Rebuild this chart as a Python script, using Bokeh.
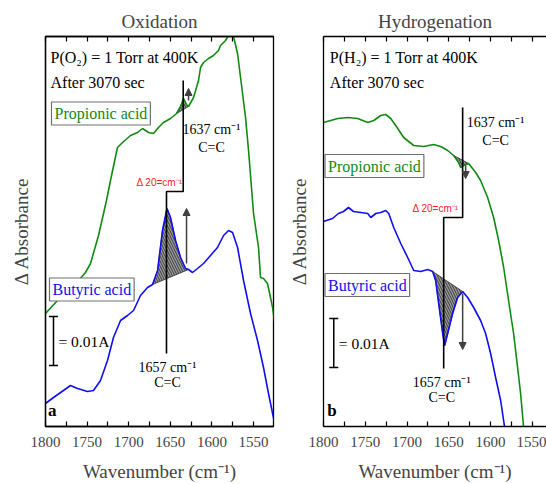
from bokeh.plotting import figure
from bokeh.layouts import row
from bokeh.models import Range1d, FixedTicker, LinearAxis, Label, Arrow, NormalHead
from bokeh.embed import file_html
from bokeh.resources import INLINE

SERIF = "Liberation Serif"
SANS = "Liberation Sans"
GREEN = "#128a12"
BLUE = "#1010ee"
GREY = "#404040"

# ---------------- data (wavenumber, delta absorbance in arbitrary units; 0.01 A = 49 units) ----
SCALE_001A = 49

ox_prop_wn = [1800, 1785.6, 1767.5, 1751.9, 1745.9, 1736.3, 1726.7, 1721.9, 1713.5, 1707.4,
              1697.8, 1689.4, 1683.4, 1676.2, 1670.2, 1664.2, 1658.2, 1649.8, 1642.5, 1637.7,
              1634.1, 1630.5, 1628.1, 1622.1, 1616.1, 1613.7, 1610.1, 1604.1, 1598.1, 1592.1,
              1589.7, 1583.6, 1577.6, 1574.0, 1569.2, 1565.6, 1559.6, 1556.0, 1551.2, 1550.0,
              1544.0, 1541.6, 1538.0, 1533.2, 1527.1, 1524.0]
ox_prop_abs = [113, 126, 139, 154, 163, 191, 226, 246, 279, 284,
               291, 294, 298, 294, 293, 299, 304, 308, 313, 320,
               328, 322, 320, 329, 346, 359, 364, 368, 371, 376,
               381, 386, 394, 390, 373, 349, 309, 276, 226, 213,
               179, 149, 148, 143, 119, 100]

ox_but_wn = [1800, 1790.4, 1778.4, 1770.0, 1761.5, 1749.5, 1742.3, 1733.9, 1725.5, 1718.3,
             1709.8, 1701.4, 1694.2, 1685.8, 1677.4, 1671.3, 1665.3, 1659.4, 1654.0, 1649.8,
             1643.7, 1637.7, 1631.7, 1628.1, 1623.3, 1617.3, 1610.1, 1601.7, 1593.3, 1586.0,
             1580.0, 1575.2, 1569.2, 1562.0, 1553.6, 1545.2, 1538.0, 1532.0, 1527.1, 1523.5]
ox_but_abs = [23, 29, 36, 41, 38, 35, 36, 46, 66, 89,
              106, 111, 116, 131, 139, 142, 156, 196, 218, 209,
              186, 169, 158, 157, 154, 158, 163, 171, 179, 191,
              196, 194, 179, 146, 113, 86, 59, 33, 13, -1]

hy_prop_wn = [1800, 1782.9, 1770.9, 1759.0, 1747.0, 1739.8, 1731.5, 1725.5, 1719.5, 1711.1,
              1704.0, 1692.0, 1680.0, 1668.1, 1659.7, 1651.3, 1644.2, 1638.2, 1635.8, 1632.2,
              1626.2, 1617.8, 1611.9, 1603.5, 1596.3, 1590.3, 1584.3, 1578.4, 1572.4, 1567.6,
              1564.0, 1560.4]
hy_prop_abs = [304, 308, 309, 308, 304, 306, 311, 312, 308, 298,
               289, 281, 280, 282, 280, 276, 271, 264, 259, 261,
               263, 254, 246, 229, 209, 186, 159, 126, 93, 59,
               33, -1]

hy_but_wn = [1800, 1789.2, 1782.1, 1776.1, 1770.1, 1764.1, 1755.4, 1747.0, 1743.4, 1737.4,
             1731.5, 1725.5, 1721.9, 1715.9, 1707.5, 1699.2, 1692.0, 1683.6, 1675.2, 1669.3,
             1665.7, 1662.1, 1657.3, 1654.9, 1651.3, 1645.4, 1639.4, 1633.4, 1627.4, 1620.2,
             1611.9, 1605.9, 1599.9, 1593.9, 1587.9, 1583.1]
hy_but_abs = [205, 208, 213, 215, 219, 215, 214, 213, 209, 213,
              214, 216, 213, 199, 183, 169, 156, 155, 157, 155,
              146, 123, 93, 81, 93, 113, 129, 135, 129, 119,
              106, 93, 73, 49, 26, -1]

MAJOR_TICKS = [1800, 1750, 1700, 1650, 1600, 1550]
MINOR_TICKS = [1775, 1725, 1675, 1625, 1575, 1525]


def shade(p, wn, ab, lo, hi):
    xs = [w for w in wn if lo <= w <= hi]
    ys = [a for w, a in zip(wn, ab) if lo <= w <= hi]
    p.patch(xs, ys, fill_color="#9a9a9a", fill_alpha=1.0, line_color="#303030", line_width=0.8,
            hatch_pattern="\\", hatch_color="#303030", hatch_scale=5, hatch_weight=0.9)


def txt(p, x, y, t, size="15px", color="black", font=SERIF, align="left", style="normal", **kw):
    lab = Label(x=x, y=y, text=t, text_font=font, text_font_size=size, text_color=color,
                text_align=align, text_baseline="middle", text_font_style=style, **kw)
    p.add_layout(lab)


def box_label(p, x, y, t, color):
    lab = Label(x=x, y=y, text=t, text_font=SERIF, text_font_size="16px", text_color=color,
                text_align="left", text_baseline="middle", padding=3,
                border_line_color="#707070", border_line_width=1.2,
                background_fill_color="white")
    p.add_layout(lab)


def arrow(p, x, y0, y1):
    p.add_layout(Arrow(end=NormalHead(size=7, fill_color=GREY, line_color=GREY),
                       x_start=x, y_start=y0, x_end=x, y_end=y1,
                       line_color=GREY, line_width=1.5))


def make_panel(title, xmin, width, bl, br, gas, letter, prop, but, marks):
    p = figure(width=width, height=484, x_range=Range1d(1800, xmin), y_range=Range1d(0, 390),
               output_backend="svg", toolbar_location=None,
               min_border_left=bl, min_border_right=br, min_border_top=36, min_border_bottom=58)
    p.grid.visible = False
    p.background_fill_color = "white"
    p.border_fill_color = "white"
    p.title.text = title
    p.title.align = "center"
    p.title.text_font = SERIF
    p.title.text_font_size = "19px"
    p.title.text_font_style = "normal"

    xa = p.xaxis[0]
    xa.ticker = FixedTicker(ticks=MAJOR_TICKS, minor_ticks=MINOR_TICKS)
    xa.major_tick_in = 5
    xa.major_tick_out = 0
    xa.minor_tick_in = 5
    xa.minor_tick_out = 0
    xa.axis_line_width = 1.3
    xa.major_tick_line_width = 1.2
    xa.minor_tick_line_width = 1.2
    xa.major_label_text_font = SERIF
    xa.major_label_text_font_size = "15px"
    xa.major_label_standoff = 10
    xa.axis_label = "Wavenumber (cm\u207b\u00b9)"
    xa.axis_label_text_font = SERIF
    xa.axis_label_text_font_size = "19px"
    xa.axis_label_text_font_style = "normal"
    xa.axis_label_standoff = 11

    # top frame axis: ticks only, no labels
    top = LinearAxis(ticker=FixedTicker(ticks=[], minor_ticks=MAJOR_TICKS + MINOR_TICKS),
                     major_tick_in=0, major_tick_out=0, minor_tick_in=5, minor_tick_out=0,
                     axis_line_width=1.3, minor_tick_line_width=1.2)
    p.add_layout(top, "above")

    ya = p.yaxis[0]
    ya.ticker = FixedTicker(ticks=[])
    ya.major_tick_in = 0
    ya.major_tick_out = 0
    ya.minor_tick_in = 0
    ya.minor_tick_out = 0
    ya.axis_line_width = 1.3
    ya.axis_label = "\u0394 Absorbance"
    ya.axis_label_text_font = SERIF
    ya.axis_label_text_font_size = "19px"
    ya.axis_label_text_font_style = "normal"
    ya.axis_label_standoff = 14

    # shading
    shade(p, prop[0], prop[1], prop[2][1], prop[2][0])
    shade(p, but[0], but[1], but[2][1], but[2][0])
    # curves
    p.line(prop[0], prop[1], line_color=GREEN, line_width=1.6)
    p.line(but[0], but[1], line_color=BLUE, line_width=1.6)

    m = marks
    # step marker line 1637 / 1657
    p.line([m["x37"], m["x37"], m["x57"], m["x57"]], [m["top"], m["step"], m["step"], m["bot"]],
           line_color="black", line_width=1.6)
    txt(p, m["red_x"], m["step"] + 9, "\u0394 20=cm\u207b\u00b9", size="10px", color="#ff2020",
        font=SANS, align="right")
    arrow(p, *m["arr1"])
    arrow(p, *m["arr2"])
    txt(p, m["l37"][0], m["l37"][1], "1637 cm\u207b\u00b9", size="14px", align="center")
    txt(p, m["l37"][0], m["l37"][1] - 18, "C=C", size="14px", align="center")
    txt(p, m["l57"][0], m["l57"][1], "1657 cm\u207b\u00b9", size="14px", align="center")
    txt(p, m["l57"][0], m["l57"][1] - 15, "C=C", size="14px", align="center")

    # texts
    txt(p, m["tx"], 369, gas, size="16px")
    txt(p, m["tx"], 344, "After 3070 sec", size="16px")
    box_label(p, m["prop_box"][0], m["prop_box"][1], "Propionic acid", GREEN)
    box_label(p, m["but_box"][0], m["but_box"][1], "Butyric acid", BLUE)

    # scale bar
    sx, sy0 = m["scale"]
    p.segment(x0=[sx, sx - 5.4, sx - 5.4], y0=[sy0, sy0, sy0 + SCALE_001A],
              x1=[sx, sx + 5.4, sx + 5.4], y1=[sy0 + SCALE_001A, sy0, sy0 + SCALE_001A],
              line_color="black", line_width=1.5)
    txt(p, sx - 6, sy0 + SCALE_001A / 2, "= 0.01A", size="15.5px")

    txt(p, m["tx"] + 3, 16, letter, size="17px", style="bold")
    return p


ox_marks = dict(x37=1634.5, x57=1654.6, top=346, step=235, bot=73, red_x=1635.3,
                arr1=(1628.1, 326, 338), arr2=(1630.5, 163, 218),
                l37=(1600.5, 297), l57=(1653.4, 59), tx=1794,
                prop_box=(1792.8, 313), but_box=(1795.2, 137), scale=(1790.4, 61))
hy_marks = dict(x37=1633.4, x57=1656.1, top=319, step=209, bot=58, red_x=1638.2,
                arr1=(1629.8, 261, 248), arr2=(1633.4, 133, 77),
                l37=(1593.9, 304), l57=(1658.5, 44), tx=1792.4,
                prop_box=(1798.2, 260.5), but_box=(1798.2, 141.5), scale=(1787.7, 59))

p1 = make_panel("Oxidation", 1526, 280, 45, 7, "P(O\u2082) = 1 Torr at 400K", "a",
                (ox_prop_wn, ox_prop_abs, (1642.5, 1628.1)),
                (ox_but_wn, ox_but_abs, (1671.3, 1628.1)), ox_marks)
p2 = make_panel("Hydrogenation", 1533, 266, 43, 0, "P(H\u2082) = 1 Torr at 400K", "b",
                (hy_prop_wn, hy_prop_abs, (1644.2, 1626.2)),
                (hy_but_wn, hy_but_abs, (1669.3, 1633.4)), hy_marks)
p1.outline_line_color = "black"
p1.outline_line_width = 1.3
p2.outline_line_color = None

layout = row(p1, p2, spacing=0)
open("out.html", "w").write(file_html(layout, INLINE))
